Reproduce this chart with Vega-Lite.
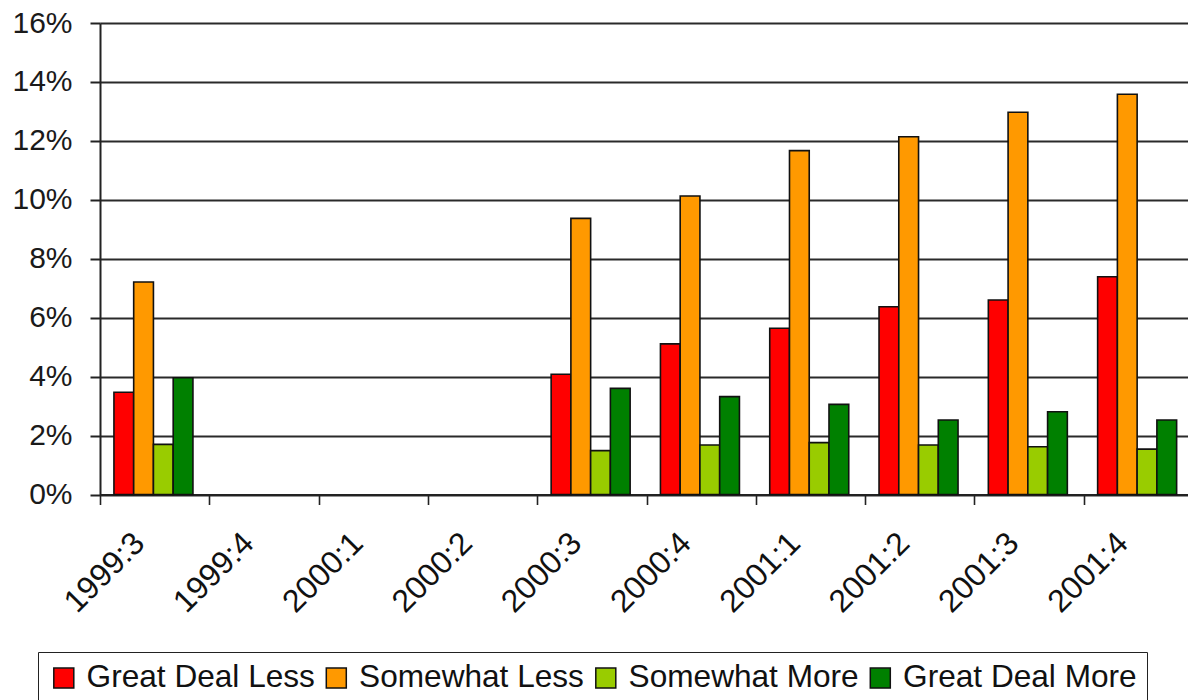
{
  "$schema": "https://vega.github.io/schema/vega-lite/v6.json",
  "width": 1088,
  "height": 471.5,
  "autosize": {"type": "none"},
  "padding": {"left": 100, "top": 23, "right": 0, "bottom": 205.5},
  "background": "white",
  "config": {
    "view": {"stroke": null},
    "font": "Liberation Sans"
  },
  "data": {
    "values": [
      {"quarter": "1999:3", "response": "Great Deal Less", "share": 0.0347},
      {"quarter": "1999:3", "response": "Somewhat Less", "share": 0.0721},
      {"quarter": "1999:3", "response": "Somewhat More", "share": 0.0170},
      {"quarter": "1999:3", "response": "Great Deal More", "share": 0.0396},
      {"quarter": "2000:3", "response": "Great Deal Less", "share": 0.0408},
      {"quarter": "2000:3", "response": "Somewhat Less", "share": 0.0937},
      {"quarter": "2000:3", "response": "Somewhat More", "share": 0.0149},
      {"quarter": "2000:3", "response": "Great Deal More", "share": 0.0360},
      {"quarter": "2000:4", "response": "Great Deal Less", "share": 0.0511},
      {"quarter": "2000:4", "response": "Somewhat Less", "share": 0.1013},
      {"quarter": "2000:4", "response": "Somewhat More", "share": 0.0168},
      {"quarter": "2000:4", "response": "Great Deal More", "share": 0.0332},
      {"quarter": "2001:1", "response": "Great Deal Less", "share": 0.0564},
      {"quarter": "2001:1", "response": "Somewhat Less", "share": 0.1167},
      {"quarter": "2001:1", "response": "Somewhat More", "share": 0.0176},
      {"quarter": "2001:1", "response": "Great Deal More", "share": 0.0306},
      {"quarter": "2001:2", "response": "Great Deal Less", "share": 0.0637},
      {"quarter": "2001:2", "response": "Somewhat Less", "share": 0.1214},
      {"quarter": "2001:2", "response": "Somewhat More", "share": 0.0168},
      {"quarter": "2001:2", "response": "Great Deal More", "share": 0.0253},
      {"quarter": "2001:3", "response": "Great Deal Less", "share": 0.0660},
      {"quarter": "2001:3", "response": "Somewhat Less", "share": 0.1297},
      {"quarter": "2001:3", "response": "Somewhat More", "share": 0.0162},
      {"quarter": "2001:3", "response": "Great Deal More", "share": 0.0281},
      {"quarter": "2001:4", "response": "Great Deal Less", "share": 0.0739},
      {"quarter": "2001:4", "response": "Somewhat Less", "share": 0.1358},
      {"quarter": "2001:4", "response": "Somewhat More", "share": 0.0154},
      {"quarter": "2001:4", "response": "Great Deal More", "share": 0.0253}
    ]
  },
  "mark": {"type": "bar", "stroke": "#111111", "strokeWidth": 1.6},
  "encoding": {
    "x": {
      "field": "quarter",
      "type": "nominal",
      "sort": null,
      "scale": {
        "domain": ["1999:3", "1999:4", "2000:1", "2000:2", "2000:3", "2000:4", "2001:1", "2001:2", "2001:3", "2001:4"],
        "range": [0, 1093],
        "paddingInner": 0,
        "paddingOuter": 0
      },
      "axis": {
        "title": null,
        "grid": false,
        "labelAngle": -45,
        "labelAlign": "right",
        "labelBaseline": "middle",
        "labelFont": "Liberation Sans",
        "labelFontSize": 32,
        "labelColor": "#111111",
        "labelOffset": -16,
        "labelPadding": 33,
        "tickBand": "extent",
        "tickSize": 10,
        "tickColor": "#222222",
        "tickWidth": 1.6,
        "domainColor": "#222222",
        "domainWidth": 2
      }
    },
    "xOffset": {
      "field": "response",
      "type": "nominal",
      "sort": ["Great Deal Less", "Somewhat Less", "Somewhat More", "Great Deal More"],
      "scale": {"paddingInner": 0, "paddingOuter": 0.767, "align": 0.46}
    },
    "y": {
      "field": "share",
      "type": "quantitative",
      "scale": {"domain": [0, 0.16], "nice": false},
      "axis": {
        "title": null,
        "format": ".0%",
        "values": [0, 0.02, 0.04, 0.06, 0.08, 0.1, 0.12, 0.14, 0.16],
        "labelFont": "Liberation Sans",
        "labelFontSize": 30,
        "labelColor": "#1a1a1a",
        "labelPadding": 18,
        "tickSize": 10,
        "tickColor": "#222222",
        "tickWidth": 2,
        "domainColor": "#222222",
        "domainWidth": 2,
        "grid": true,
        "gridColor": "#2a2a2a",
        "gridWidth": 2
      }
    },
    "color": {
      "field": "response",
      "type": "nominal",
      "sort": ["Great Deal Less", "Somewhat Less", "Somewhat More", "Great Deal More"],
      "scale": {
        "domain": ["Great Deal Less", "Somewhat Less", "Somewhat More", "Great Deal More"],
        "range": ["#FF0000", "#FF9900", "#99CC00", "#008000"]
      },
      "legend": {
        "title": null,
        "orient": "none",
        "legendX": -62,
        "legendY": 629,
        "direction": "horizontal",
        "strokeColor": "#222222",
        "padding": 10,
        "symbolType": "square",
        "symbolSize": 400,
        "symbolStrokeColor": "#111111",
        "symbolStrokeWidth": 1.5,
        "symbolOpacity": 1,
        "labelFont": "Liberation Sans",
        "labelFontSize": 31.6,
        "labelColor": "#111111",
        "labelOffset": 7,
        "labelLimit": 400,
        "columnPadding": 5.5
      }
    }
  }
}
